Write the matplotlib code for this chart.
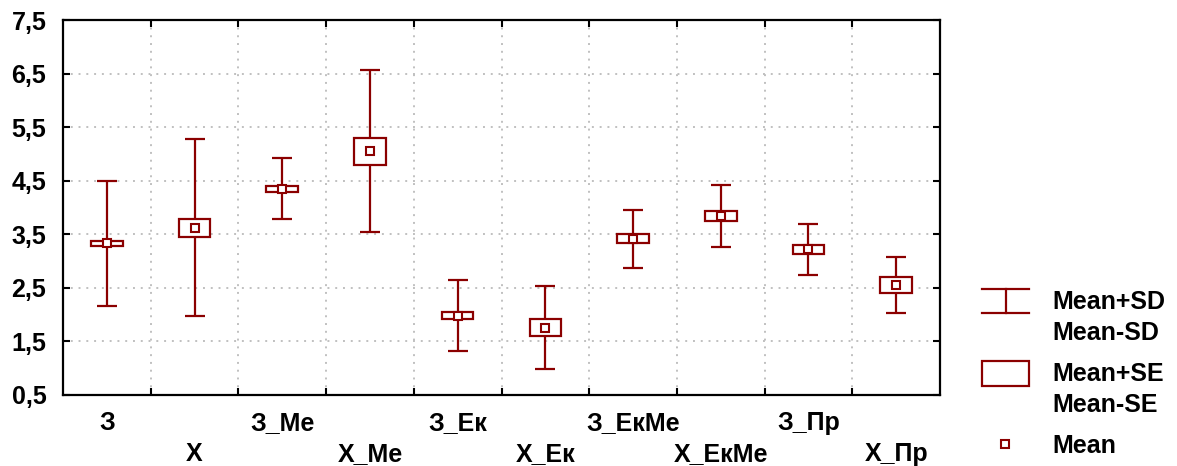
import matplotlib
matplotlib.use("Agg")
import matplotlib.pyplot as plt
import numpy as np
from matplotlib.patches import Rectangle
from matplotlib.lines import Line2D

# groups and values
labels = ["З", "Х", "З_Ме", "Х_Ме", "З_Ек", "Х_Ек", "З_ЕкМе", "Х_ЕкМе", "З_Пр", "Х_Пр"]
means = [3.33, 3.62, 4.35, 5.05, 1.98, 1.76, 3.42, 3.84, 3.22, 2.55]
sd = [1.16, 1.65, 0.57, 1.51, 0.66, 0.78, 0.54, 0.58, 0.48, 0.52]
se = [0.05, 0.17, 0.06, 0.25, 0.07, 0.16, 0.09, 0.10, 0.08, 0.15]
yticks = [0.5, 1.5, 2.5, 3.5, 4.5, 5.5, 6.5, 7.5]

RED = "#8B0000"
GRID = "#c0c0c0"
FS = 18

plt.rcParams["font.family"] = ["Liberation Sans", "DejaVu Sans"]
plt.rcParams["font.weight"] = "bold"

fig = plt.figure(figsize=(11.77, 4.66), dpi=100)
ax = fig.add_axes([63 / 1177, 1 - 395 / 466, 877 / 1177, 375 / 466])

x = np.arange(len(labels))
means = np.array(means)
sd = np.array(sd)
se = np.array(se)

# SD whiskers
ax.errorbar(x, means, yerr=sd, fmt="none", ecolor=RED, elinewidth=1.6,
            capsize=7.5, capthick=1.6, zorder=3)
# SE boxes
ax.bar(x, 2 * se, bottom=means - se, width=0.36, facecolor="white",
       edgecolor=RED, linewidth=1.6, zorder=4)
# means
ax.plot(x, means, "s", ms=5.5, mfc="white", mec=RED, mew=1.5, zorder=5,
        linestyle="none")

ax.set_xlim(-0.5, len(labels) - 0.5)
ax.set_ylim(0.5, 7.5)

# grid / ticks at category boundaries
ax.set_xticks(np.arange(0.5, len(labels) - 0.5, 1.0))
ax.set_xticklabels([])
ax.set_xticks(x, minor=True)
ax.set_xticklabels(labels, minor=True, fontsize=FS, fontweight="bold")
ax.tick_params(axis="x", which="minor", length=0, pad=11.5)
for i, t in enumerate(ax.xaxis.get_minor_ticks()):
    if i % 2 == 1:
        t.set_pad(33.5)

ax.set_yticks(yticks)
ax.set_yticklabels([f"{v:.1f}".replace(".", ",") for v in yticks],
                   fontsize=FS, fontweight="bold")
ax.tick_params(axis="both", which="major", direction="in", length=5, width=1.5,
               top=True, right=True, pad=12)
ax.tick_params(axis="x", which="major", pad=0)

ax.grid(True, which="major", color=GRID, linestyle=(0, (1, 3)), linewidth=1.4)
ax.set_axisbelow(True)
for s in ax.spines.values():
    s.set_linewidth(1.6)

# legend drawn in its own axes at the right
lax = fig.add_axes([0, 0, 1, 1], facecolor="none")
lax.set_xlim(0, 1177)
lax.set_ylim(466, 0)
lax.axis("off")

lax.add_line(Line2D([982, 1029], [289, 289], color=RED, lw=1.6))
lax.add_line(Line2D([982, 1029], [313, 313], color=RED, lw=1.6))
lax.add_line(Line2D([1006, 1006], [289, 313], color=RED, lw=1.6))
lax.text(1052, 302, "Mean+SD", fontsize=FS, fontweight="bold", va="center")
lax.text(1052, 333, "Mean-SD", fontsize=FS, fontweight="bold", va="center")

lax.add_patch(Rectangle((982, 361), 47, 25, facecolor="white", edgecolor=RED, lw=1.6))
lax.text(1052, 374, "Mean+SE", fontsize=FS, fontweight="bold", va="center")
lax.text(1052, 405, "Mean-SE", fontsize=FS, fontweight="bold", va="center")

lax.plot([1005], [444], "s", ms=5.5, mfc="white", mec=RED, mew=1.5)
lax.text(1052, 446, "Mean", fontsize=FS, fontweight="bold", va="center")

fig.savefig("out.png", dpi=100)
